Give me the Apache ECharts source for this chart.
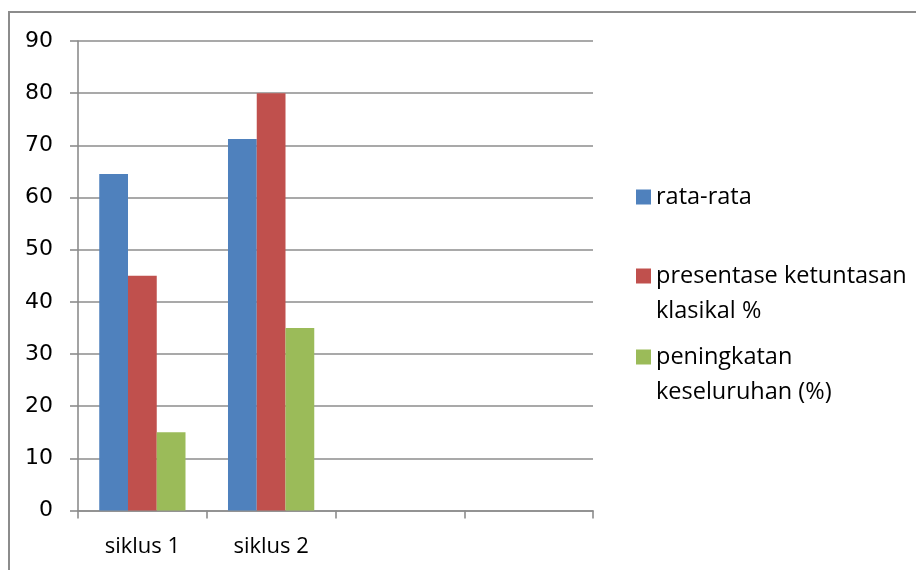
<!DOCTYPE html>
<html>
<head>
<meta charset="utf-8">
<script src="https://cdn.jsdelivr.net/npm/echarts@6/dist/echarts.min.js"></script>
<style>
  html, body { margin: 0; padding: 0; background: #ffffff; }
  #chart { width: 916px; height: 570px; }
</style>
</head>
<body>
<div id="chart"></div>
<script>
// Categories along the x axis (the last two slots are empty)
const categories = ['siklus 1', 'siklus 2', '', ''];

// Series names
const seriesNames = ['rata-rata', 'presentase ketuntasan klasikal %', 'peningkatan keseluruhan (%)'];

// Series values per cycle
const rataRata = [64.5, 71.2, null, null];
const ketuntasan = [45, 80, null, null];
const peningkatan = [15, 35, null, null];

// Y axis ticks
const yMin = 0, yMax = 90, yStep = 10;

const colors = ['#4F81BD', '#C0504D', '#9BBB59'];
const FONT = '"Open Sans", "Noto Sans", sans-serif';
const NUM_FONT = '"DejaVu Sans", sans-serif';
const gridColor = '#8c8c8c';

// Wrapped legend labels; a leading blank line keeps the swatch beside the first line
const legendLabels = {
  'rata-rata': 'rata-rata',
  'presentase ketuntasan klasikal %': ' \npresentase ketuntasan\nklasikal %',
  'peningkatan keseluruhan (%)': ' \npeningkatan\nkeseluruhan (%)'
};
const LINE_H = 35;

function legendFor(name, centerY, lines) {
  const h = lines * LINE_H;
  return {
    data: [name],
    left: 636,
    top: centerY - h / 2,
    padding: 0,
    itemWidth: 15,
    itemHeight: 15,
    itemGap: 0,
    icon: 'rect',
    selectedMode: false,
    formatter: n => legendLabels[n],
    textStyle: { fontFamily: FONT, fontSize: 23.5, color: '#000', lineHeight: LINE_H }
  };
}

const chart = echarts.init(document.getElementById('chart'), null, { renderer: 'canvas' });

chart.setOption({
  animation: false,
  backgroundColor: '#ffffff',
  color: colors,
  grid: { left: 78, right: 323, top: 41, bottom: 59.5, containLabel: false },
  legend: [
    legendFor(seriesNames[0], 197, 1),
    legendFor(seriesNames[1], 276, 3),
    legendFor(seriesNames[2], 357, 3)
  ],
  xAxis: {
    type: 'category',
    data: categories,
    boundaryGap: true,
    axisLine: { show: true, lineStyle: { color: gridColor, width: 1.6 } },
    axisTick: { show: true, length: 8, lineStyle: { color: gridColor, width: 1.6 } },
    axisLabel: { fontFamily: FONT, fontSize: 22, color: '#000', margin: 25 },
    splitLine: { show: false }
  },
  yAxis: {
    type: 'value',
    min: yMin, max: yMax, interval: yStep,
    axisLine: { show: true, lineStyle: { color: gridColor, width: 1.6 } },
    axisTick: { show: true, inside: false, length: 8, lineStyle: { color: gridColor, width: 1.6 } },
    axisLabel: { fontFamily: NUM_FONT, fontSize: 22, color: '#000', margin: 25 },
    splitLine: { show: true, lineStyle: { color: gridColor, width: 1.6 } }
  },
  graphic: [{
    type: 'polyline',
    shape: { points: [[9, 570], [9, 12], [916, 12]] },
    style: { stroke: '#8c8c8c', lineWidth: 2, fill: null },
    silent: true
  }],
  series: [
    { name: seriesNames[0], type: 'bar', data: rataRata, barGap: '0%', barCategoryGap: '33%' },
    { name: seriesNames[1], type: 'bar', data: ketuntasan, barGap: '0%', barCategoryGap: '33%' },
    { name: seriesNames[2], type: 'bar', data: peningkatan, barGap: '0%', barCategoryGap: '33%' }
  ]
});
</script>
</body>
</html>
